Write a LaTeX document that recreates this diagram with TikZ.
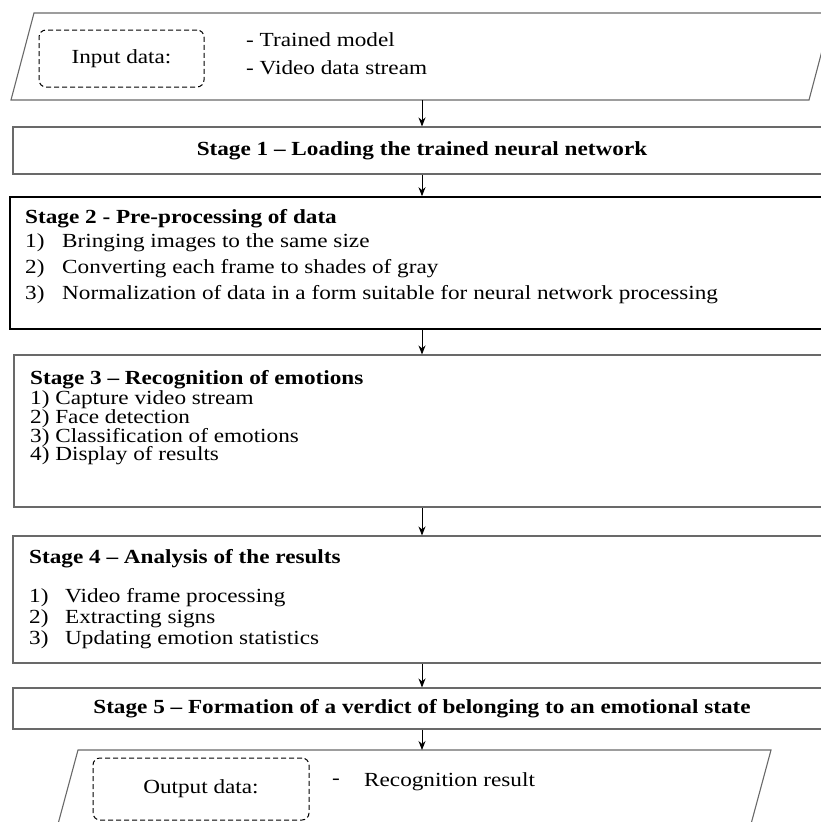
\documentclass[tikz,border=0pt]{standalone}
\usepackage{fontspec}
\setmainfont{Liberation Serif}[FakeStretch=1.16]
\usetikzlibrary{positioning,arrows.meta}
\definecolor{edgegray}{RGB}{105,105,105}
\newcommand{\flowfont}{\fontsize{20}{23}\selectfont}
\tikzset{
  stagebox/.style={draw=edgegray, line width=1.1pt, inner sep=0pt},
  iopath/.style={draw=edgegray, line width=1.1pt},
  dashbox/.style={draw=black, dashed, dash pattern=on 5pt off 3pt,
    rounded corners=7pt, line width=1pt, inner sep=0pt},
  title/.style={font=\flowfont\bfseries, anchor=west, inner sep=0pt},
  item/.style={anchor=west, inner sep=0pt},
  flow/.style={-{Stealth[length=9pt,width=7pt]}, line width=0.9pt},
}
\begin{document}
\begin{tikzpicture}[x=1pt, y=-1pt, font=\flowfont]
\useasboundingbox (0,0) rectangle (821,822);
\clip (0,0) rectangle (821,822);

% input data
\draw[iopath] (34,13) -- (832,13) -- (809,100) -- (11,100) -- cycle;
\coordinate (inbot) at (422,100);
\node[dashbox, minimum width=165pt, minimum height=57pt] (indash) at (121.5,58.5) {Input data:};
\node[item] (inmodel) at (246,40) {- Trained model};
\node[item] (invideo) at (246,68) {- Video data stream};

% stages
\node[stagebox, minimum width=818pt, minimum height=47pt] (s1) at (422,150.5)
  {\bfseries Stage 1 -- Loading the trained neural network};

\node[stagebox, draw=black, line width=1.6pt, minimum width=824pt, minimum height=132pt] (s2) at (422,263) {};
\node[title] (s2t) at (25,219) {Stage 2 - Pre-processing of data};
\foreach \txt [count=\i] in {Bringing images to the same size,
    Converting each frame to shades of gray,
    Normalization of data in a form suitable for neural network processing}
  \node[item] (s2i\i) at (25,217+26*\i) {\makebox[37pt][l]{\i)}\txt};

\node[stagebox, minimum width=816pt, minimum height=152pt] (s3) at (422,431) {};
\node[title] (s3t) at (30,380) {Stage 3 -- Recognition of emotions};
\foreach \txt [count=\i] in {Capture video stream, Face detection,
    Classification of emotions, Display of results}
  \node[item] (s3i\i) at (30,381.3+18.7*\i) {\i) \txt};

\node[stagebox, minimum width=818pt, minimum height=127pt] (s4) at (422,599.5) {};
\node[title] (s4t) at (29,559) {Stage 4 -- Analysis of the results};
\foreach \txt [count=\i] in {Video frame processing, Extracting signs,
    Updating emotion statistics}
  \node[item] (s4i\i) at (29,577+21*\i) {\makebox[36pt][l]{\i)}\txt};

\node[stagebox, minimum width=818pt, minimum height=41pt] (s5) at (422,708.5)
  {\bfseries Stage 5 -- Formation of a verdict of belonging to an emotional state};

% output data
\draw[iopath] (78,750) -- (771,750) -- (744,850) -- (51,850) -- cycle;
\coordinate (outtop) at (422,750);
\node[dashbox, minimum width=216pt, minimum height=62pt] (outdash) at (201,789) {Output data:};
\node[item] (outdashmark) at (332,782) {-};
\node[item] (outresult) at (364,782) {Recognition result};

% arrows
\draw[flow] (inbot) -- (s1.north);
\draw[flow] (s1) -- (s2);
\draw[flow] (s2) -- (s3);
\draw[flow] (s3) -- (s4);
\draw[flow] (s4) -- (s5);
\draw[flow] (s5.south) -- (outtop);
\end{tikzpicture}
\end{document}
